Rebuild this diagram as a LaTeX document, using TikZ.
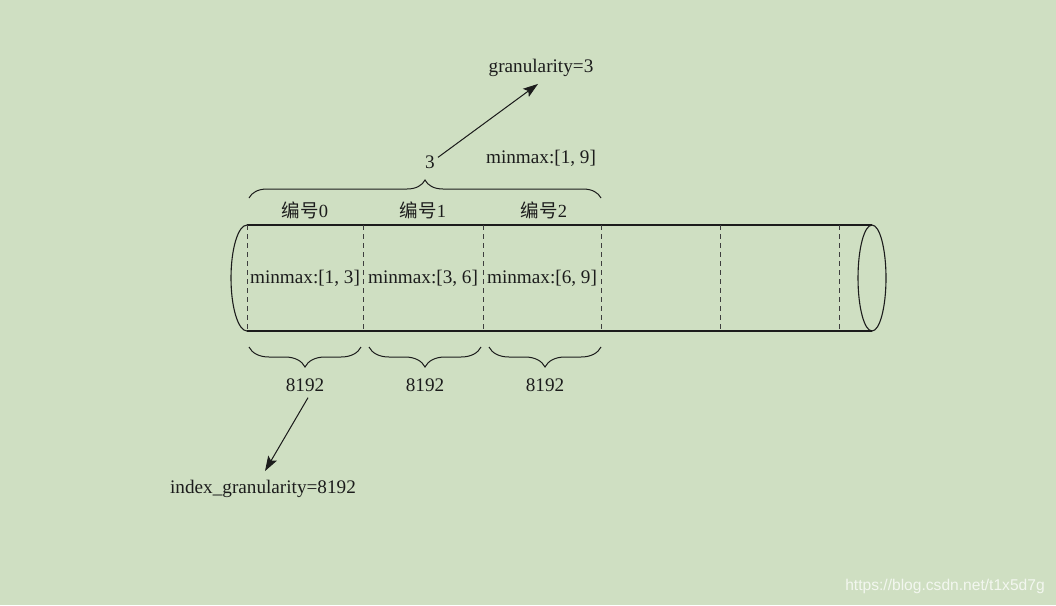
\documentclass[tikz,border=0pt]{standalone}
\usepackage{fontspec}
\setmainfont{Liberation Serif}
\newfontfamily\cjk{Noto Sans CJK SC}
\newfontfamily\wmfont{Liberation Sans}
\usetikzlibrary{decorations.pathreplacing,arrows.meta,calc}
\definecolor{bg}{RGB}{207,223,194}
\definecolor{ink}{RGB}{28,28,28}
\begin{document}
\begin{tikzpicture}[x=1pt,y=-1pt,
 lbl/.style={font=\fontsize{19.2}{22}\selectfont, inner sep=0pt, text=ink},
 cjkl/.style={font=\fontsize{18.5}{22}\selectfont, inner sep=0pt, text=ink},
 brc/.style={decorate, decoration={brace, amplitude=18pt}, line width=1pt, draw=ink},
 brcm/.style={decorate, decoration={brace, amplitude=20pt, mirror}, line width=1pt, draw=ink},
 dsh/.style={dash pattern=on 5pt off 4pt, line width=1pt, draw=ink!85},
 body/.style={line width=1.1pt, draw=ink},
 arr/.style={-{Stealth[length=15pt,width=10pt,inset=3pt]}, line width=1pt, draw=ink, fill=ink}]
\fill[bg] (0,0) rectangle (1056,605);
\useasboundingbox (0,0) rectangle (1056,605);
% cylinder
\draw[body] (247,225) -- (872,225);
\draw[body] (247,331) -- (872,331);
\draw[body] (247,225) arc[start angle=270, end angle=90, x radius=16, y radius=53];
\draw[body] (872,278) ellipse [x radius=14, y radius=53];
\foreach \x in {247,363,483,601,720,839}
  \draw[dsh] (\x,225) -- (\x,331);
% braces
\draw[brc] (249,198) -- (601,198);
\draw[brcm] (249,347) -- (361,347);
\draw[brcm] (369,347) -- (481,347);
\draw[brcm] (489,347) -- (601,347);
% labels
\node[lbl] (three) at (430,162) {3};
\node[lbl] (gran) at (541,68) {granularity=3};
\node[lbl] (mm) at (541,158) {minmax:[1, 9]};
\node[cjkl] (id0) at (305,210) {{\cjk 编号}0};
\node[cjkl] (id1) at (423,210) {{\cjk 编号}1};
\node[cjkl] (id2) at (544,210) {{\cjk 编号}2};
\node[lbl] (m0) at (305,278) {minmax:[1, 3]};
\node[lbl] (m1) at (423,278) {minmax:[3, 6]};
\node[lbl] (m2) at (542,278) {minmax:[6, 9]};
\node[lbl] (g0) at (305,385) {8192};
\node[lbl] (g1) at (425,385) {8192};
\node[lbl] (g2) at (545,385) {8192};
\node[lbl] (ig) at (263,489) {index\_granularity=8192};
\node[font=\wmfont\fontsize{15.6}{18}\selectfont, text=white, opacity=0.75, inner sep=0pt] (wm) at (945,586) {https://blog.csdn.net/t1x5d7g};
% arrows
\draw[arr] ($(three.north east)+(3,2)$) -- ($(gran.south)+(-3,7)$);
\draw[arr] ($(g0.south)+(3,6)$) -- ($(ig.north)+(2,-9)$);
\end{tikzpicture}
\end{document}
